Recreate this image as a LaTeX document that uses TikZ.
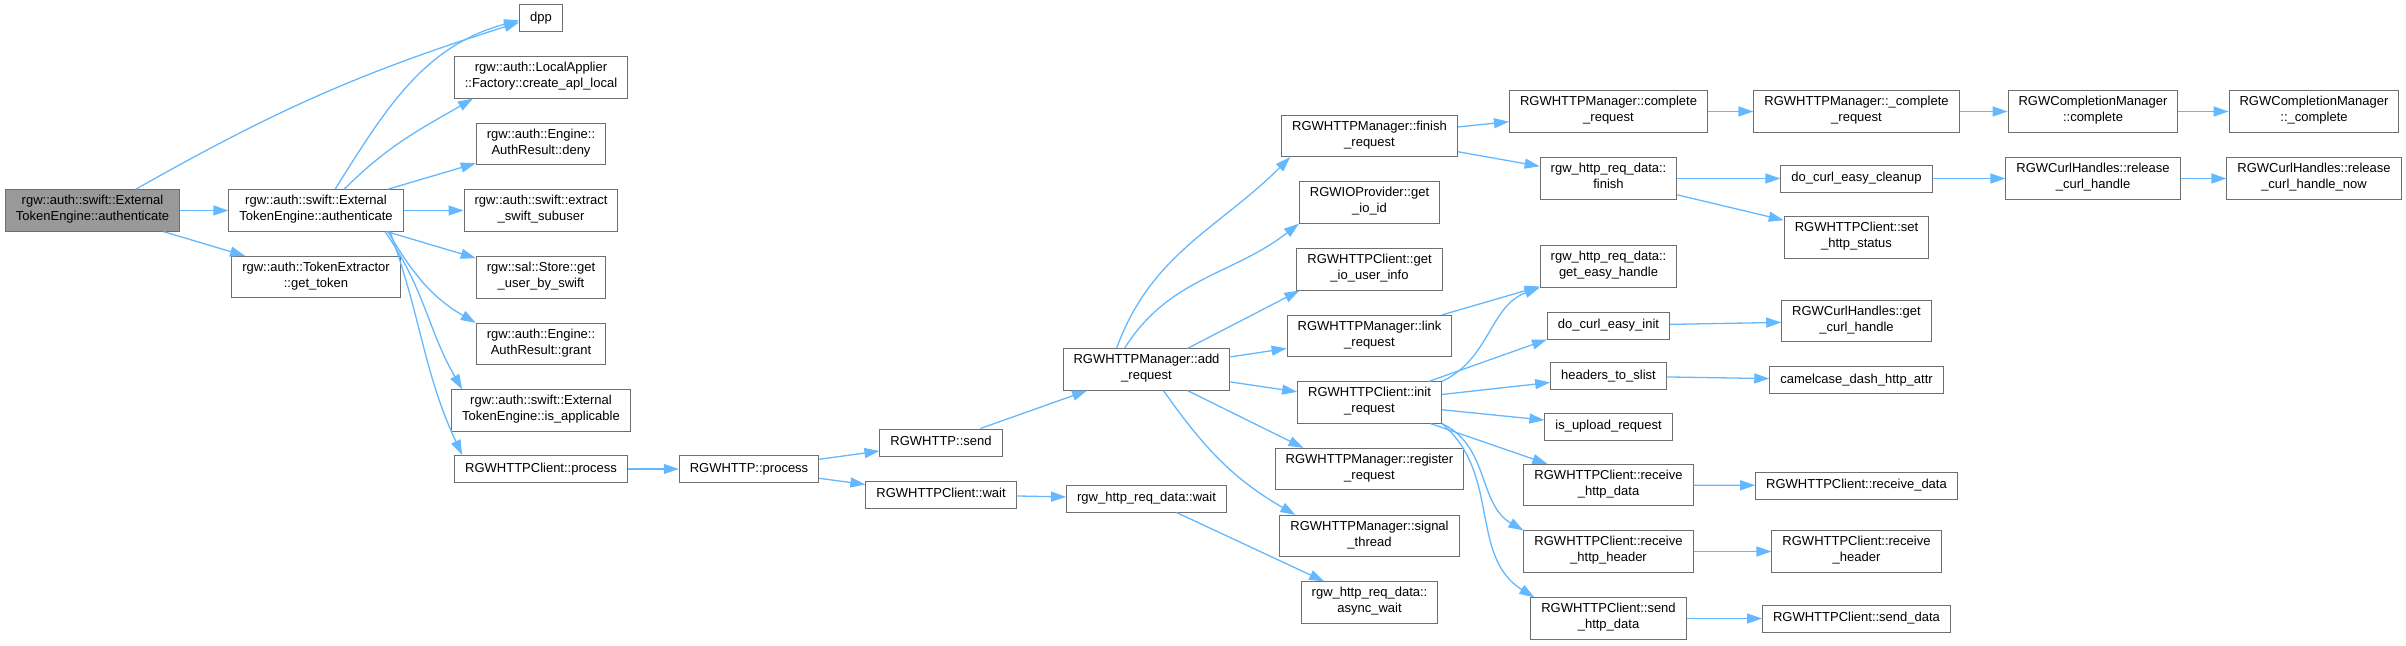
\documentclass[tikz,border=0pt]{standalone}
\usepackage{fontspec}
\setmainfont{Liberation Sans}
\usepackage{tikz}
\usetikzlibrary{arrows.meta, positioning}
\definecolor{cgblue}{RGB}{99, 184, 255}
\definecolor{cggray}{RGB}{110, 110, 110}
\definecolor{cgfill}{RGB}{153, 153, 153}

\begin{document}
\begin{tikzpicture}[x=1pt, y=1pt,
  fn/.style={draw=cggray, line width=1pt, fill=white, align=center,
    font=\fontsize{13}{16}\selectfont, inner xsep=10.5pt, inner ysep=5.5pt,
    execute at begin node=\strut, execute at end node=\strut},
  rootfn/.style={fn, fill=cgfill},
  call/.style={draw=cgblue, line width=1.3pt, -{Triangle[length=15pt, width=10pt]}}]

  \useasboundingbox (0,0) rectangle (2406,-645);

  % --- rank 0 and 1 ---
  \node[rootfn] (main) at (92.5,-210.5) {rgw::auth::swift::External\\TokenEngine::authenticate};
  \node[fn] (auth) at (316,-210.5) {rgw::auth::swift::External\\TokenEngine::authenticate};
  \node[fn] (gettoken) at (316,-277) {rgw::auth::TokenExtractor\\::get\_token};

  % --- rank 2 ---
  \node[fn] (dpp) at (541,-18.3) {dpp};
  \node[fn] (createapl) at (541,-77.5) {rgw::auth::LocalApplier\\::Factory::create\_apl\_local};
  \node[fn] (deny) at (541,-144) {rgw::auth::Engine::\\AuthResult::deny};
  \node[fn] (extract) at (541,-210.5) {rgw::auth::swift::extract\\\_swift\_subuser};
  \node[fn] (getuser) at (541,-277.5) {rgw::sal::Store::get\\\_user\_by\_swift};
  \node[fn] (grant) at (541,-344) {rgw::auth::Engine::\\AuthResult::grant};
  \node[fn] (isapp) at (541,-410.5) {rgw::auth::swift::External\\TokenEngine::is\_applicable};
  \node[fn] (clproc) at (541,-469) {RGWHTTPClient::process};

  % --- rank 3 to 5 ---
  \node[fn] (httpproc) at (749,-469) {RGWHTTP::process};
  \node[fn] (send) at (941,-442.5) {RGWHTTP::send};
  \node[fn] (clwait) at (941,-494.5) {RGWHTTPClient::wait};
  \node[fn] (addreq) at (1146.5,-369.5) {RGWHTTPManager::add\\\_request};
  \node[fn] (rdwait) at (1146.5,-498.5) {rgw\_http\_req\_data::wait};

  % --- rank 6 ---
  \node[fn] (finreq) at (1369.5,-136) {RGWHTTPManager::finish\\\_request};
  \node[fn] (ioid) at (1369.5,-202.5) {RGWIOProvider::get\\\_io\_id};
  \node[fn] (iouser) at (1369.5,-269.5) {RGWHTTPClient::get\\\_io\_user\_info};
  \node[fn] (linkreq) at (1369.5,-336) {RGWHTTPManager::link\\\_request};
  \node[fn] (initreq) at (1369.5,-402.5) {RGWHTTPClient::init\\\_request};
  \node[fn] (regreq) at (1369.5,-469) {RGWHTTPManager::register\\\_request};
  \node[fn] (sigthr) at (1369.5,-536) {RGWHTTPManager::signal\\\_thread};
  \node[fn] (asyncwait) at (1369.5,-602.5) {rgw\_http\_req\_data::\\async\_wait};

  % --- rank 7 ---
  \node[fn] (compreq) at (1608.5,-111.5) {RGWHTTPManager::complete\\\_request};
  \node[fn] (rdfinish) at (1608.5,-178.5) {rgw\_http\_req\_data::\\finish};
  \node[fn] (easyhandle) at (1608.5,-266.5) {rgw\_http\_req\_data::\\get\_easy\_handle};
  \node[fn] (easyinit) at (1608.5,-325.5) {do\_curl\_easy\_init};
  \node[fn] (headers) at (1608.5,-376) {headers\_to\_slist};
  \node[fn] (isupload) at (1608.5,-426.5) {is\_upload\_request};
  \node[fn] (rhttpdata) at (1608.5,-485) {RGWHTTPClient::receive\\\_http\_data};
  \node[fn] (rhttpheader) at (1608.5,-551.5) {RGWHTTPClient::receive\\\_http\_header};
  \node[fn] (shttpdata) at (1608.5,-618.5) {RGWHTTPClient::send\\\_http\_data};

  % --- rank 8 ---
  \node[fn] (ucompreq) at (1856.5,-111.5) {RGWHTTPManager::\_complete\\\_request};
  \node[fn] (cleanup) at (1856.5,-178.5) {do\_curl\_easy\_cleanup};
  \node[fn] (setstatus) at (1856.5,-237.5) {RGWHTTPClient::set\\\_http\_status};
  \node[fn] (getcurl) at (1856.5,-321) {RGWCurlHandles::get\\\_curl\_handle};
  \node[fn] (camel) at (1856.5,-380) {camelcase\_dash\_http\_attr};
  \node[fn] (rdata) at (1856.5,-485.5) {RGWHTTPClient::receive\_data};
  \node[fn] (rheader) at (1856.5,-551.5) {RGWHTTPClient::receive\\\_header};
  \node[fn] (sdata) at (1856.5,-618.5) {RGWHTTPClient::send\_data};

  % --- rank 9 and 10 ---
  \node[fn] (cmcomp) at (2093,-111.5) {RGWCompletionManager\\::complete};
  \node[fn] (release) at (2093,-178.5) {RGWCurlHandles::release\\\_curl\_handle};
  \node[fn] (cmucomp) at (2314,-111.5) {RGWCompletionManager\\::\_complete};
  \node[fn] (releasenow) at (2314,-178.5) {RGWCurlHandles::release\\\_curl\_handle\_now};

  % --- calls from the root ---
  \draw[call] (main) -- (auth);
  \draw[call] (main) -- (gettoken);
  \draw[call] ([xshift=43]main.north) to[bend left=6] ([yshift=-4]dpp.west);

  % --- calls from authenticate ---
  \draw[call] ([xshift=19]auth.north) to[out=58, in=195] ([yshift=-2]dpp.west);
  \draw[call] ([xshift=28]auth.north) to[out=45, in=210] ([xshift=-68]createapl.south);
  \draw[call] (auth) -- (deny);
  \draw[call] (auth) -- (extract);
  \draw[call] (auth) -- (getuser);
  \draw[call] ([xshift=72]auth.south) to[out=-60, in=150] (grant.north west);
  \draw[call] ([xshift=69]auth.south) to[out=-55, in=120] ([xshift=11]isapp.north west);
  \draw[call] ([xshift=74]auth.south) to[out=-70, in=115] ([xshift=8]clproc.north west);

  % --- process / send / wait ---
  \draw[call] (clproc) -- (httpproc);
  \draw[call] (httpproc) -- (send);
  \draw[call] (httpproc) -- (clwait);
  \draw[call] (send) -- (addreq);
  \draw[call] (clwait) -- (rdwait);
  \draw[call] (rdwait) -- (asyncwait);

  % --- calls from add_request ---
  \draw[call] ([xshift=-30]addreq.north) to[out=70, in=225] ([xshift=9]finreq.south west);
  \draw[call] ([xshift=-22]addreq.north) to[out=58, in=218] (ioid.south west);
  \draw[call] ([xshift=41]addreq.north) -- ([xshift=3]iouser.south west);
  \draw[call] (addreq) -- (linkreq);
  \draw[call] (addreq) -- (initreq);
  \draw[call] ([xshift=41]addreq.south) -- ([xshift=-66]regreq.north);
  \draw[call] ([xshift=17]addreq.south) to[out=-55, in=150] ([xshift=16]sigthr.north west);

  % --- finish / complete chain ---
  \draw[call] (finreq) -- (compreq);
  \draw[call] (finreq) -- (rdfinish);
  \draw[call] (compreq) -- (ucompreq);
  \draw[call] (ucompreq) -- (cmcomp);
  \draw[call] (cmcomp) -- (cmucomp);
  \draw[call] (rdfinish) -- (cleanup);
  \draw[call] (rdfinish) -- (setstatus);
  \draw[call] (cleanup) -- (release);
  \draw[call] (release) -- (releasenow);

  % --- link / init ---
  \draw[call] (linkreq) -- (easyhandle);
  \draw[call] (initreq.north east) to[out=25, in=200] (easyhandle.south west);
  \draw[call] (initreq) -- (easyinit.south west);
  \draw[call] (initreq) -- (headers);
  \draw[call] (initreq) -- (isupload);
  \draw[call] (initreq) -- (rhttpdata);
  \draw[call] (initreq.south east) to[out=-25, in=150] (rhttpheader.north west);
  \draw[call] (initreq.south east) to[out=-40, in=148] ([xshift=4]shttpdata.north west);
  \draw[call] (easyinit) -- (getcurl);
  \draw[call] (headers) -- (camel);
  \draw[call] (rhttpdata) -- (rdata);
  \draw[call] (rhttpheader) -- (rheader);
  \draw[call] (shttpdata) -- (sdata);

\end{tikzpicture}
\end{document}
